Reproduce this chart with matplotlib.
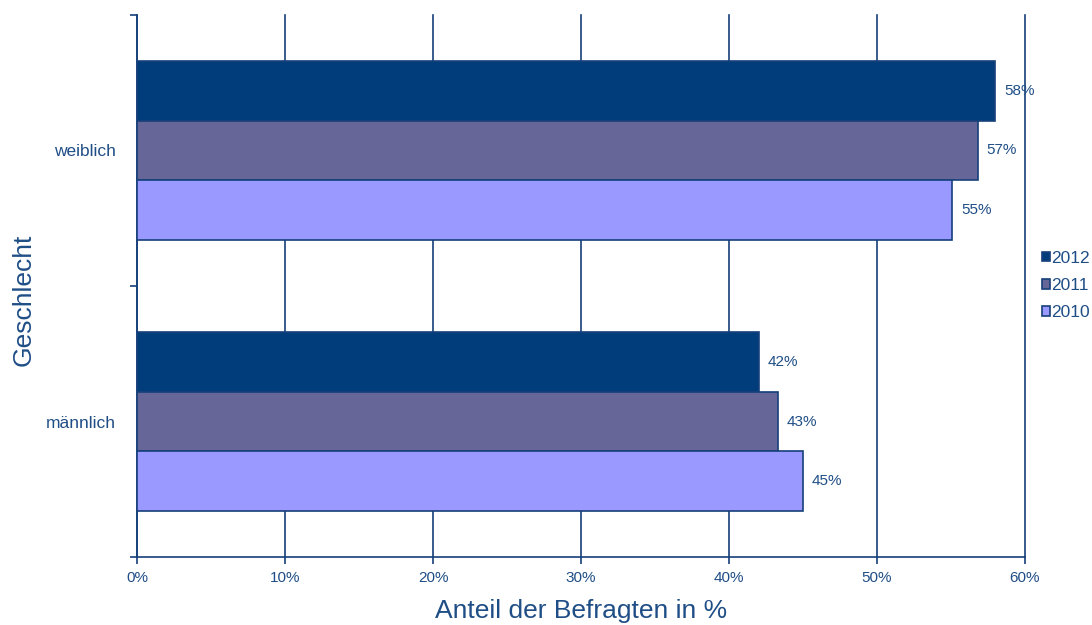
import matplotlib
matplotlib.use('Agg')
import matplotlib.pyplot as plt
import numpy as np

plt.rcParams['font.family'] = ['Liberation Sans', 'DejaVu Sans']

NAVY = '#17407a'
TEXT = '#1f4e86'

# Anteile nach Geschlecht und Jahr
kategorien = ['männlich', 'weiblich']
jahre = ['2012', '2011', '2010']
anteile = {
    '2012': [42.0, 58.0],
    '2011': [43.3, 56.8],
    '2010': [45.0, 55.1],
}
farben = {'2012': '#003d7a', '2011': '#666699', '2010': '#9999ff'}

fig = plt.figure(figsize=(10.92, 6.25), dpi=100)
ax = fig.add_axes([0.1255, 0.1088, 0.8131, 0.8672])

h = 0.221
y = np.arange(len(kategorien))
versatz = {'2012': h, '2011': 0.0, '2010': -h}

handles = []
for j in jahre:
    bars = ax.barh(y + versatz[j], anteile[j], height=h, color=farben[j],
                   edgecolor=NAVY, linewidth=1.2, label=j, zorder=3)
    handles.append(bars)
    for b, v in zip(bars, anteile[j]):
        ax.text(b.get_width() + 0.6, b.get_y() + b.get_height() / 2,
                f'{v:.0f}%', va='center', ha='left', fontsize=11, color=TEXT)

ax.set_xlim(0, 60)
ax.set_ylim(-0.5, 1.5)
ax.set_xticks(np.arange(0, 61, 10))
ax.set_xticklabels([f'{t}%' for t in range(0, 61, 10)])
ax.set_yticks(y)
ax.set_yticklabels(kategorien)
ax.set_yticks([-0.5, 0.5, 1.5], minor=True)

ax.grid(axis='x', color=NAVY, linewidth=1.2, zorder=0)
for gl in ax.get_xgridlines():
    gl.set_clip_on(False)
for s in ['top', 'right']:
    ax.spines[s].set_visible(False)
for s in ['left', 'bottom']:
    ax.spines[s].set_color(NAVY)
    ax.spines[s].set_linewidth(1.2)

ax.tick_params(axis='y', which='major', length=0, pad=15, labelsize=12.5, labelcolor=TEXT)
ax.tick_params(axis='y', which='minor', length=5, width=1.2, color=NAVY)
ax.tick_params(axis='x', length=5, width=1.2, color=NAVY, labelsize=11, labelcolor=TEXT, pad=5)

ax.set_xlabel('Anteil der Befragten in %', fontsize=19, color=TEXT, labelpad=10)
fig.text(0.011, 0.52, 'Geschlecht', rotation=90, fontsize=19, color=TEXT,
         va='center', ha='left')

fig.legend(handles=handles, labels=jahre, loc='center left',
           bbox_to_anchor=(0.954, 0.543), frameon=False, fontsize=12.5,
           handlelength=0.45, handleheight=0.45, handletextpad=0.1,
           labelspacing=0.7, labelcolor=TEXT, borderpad=0, borderaxespad=0)

fig.savefig('out.png', dpi=100)
